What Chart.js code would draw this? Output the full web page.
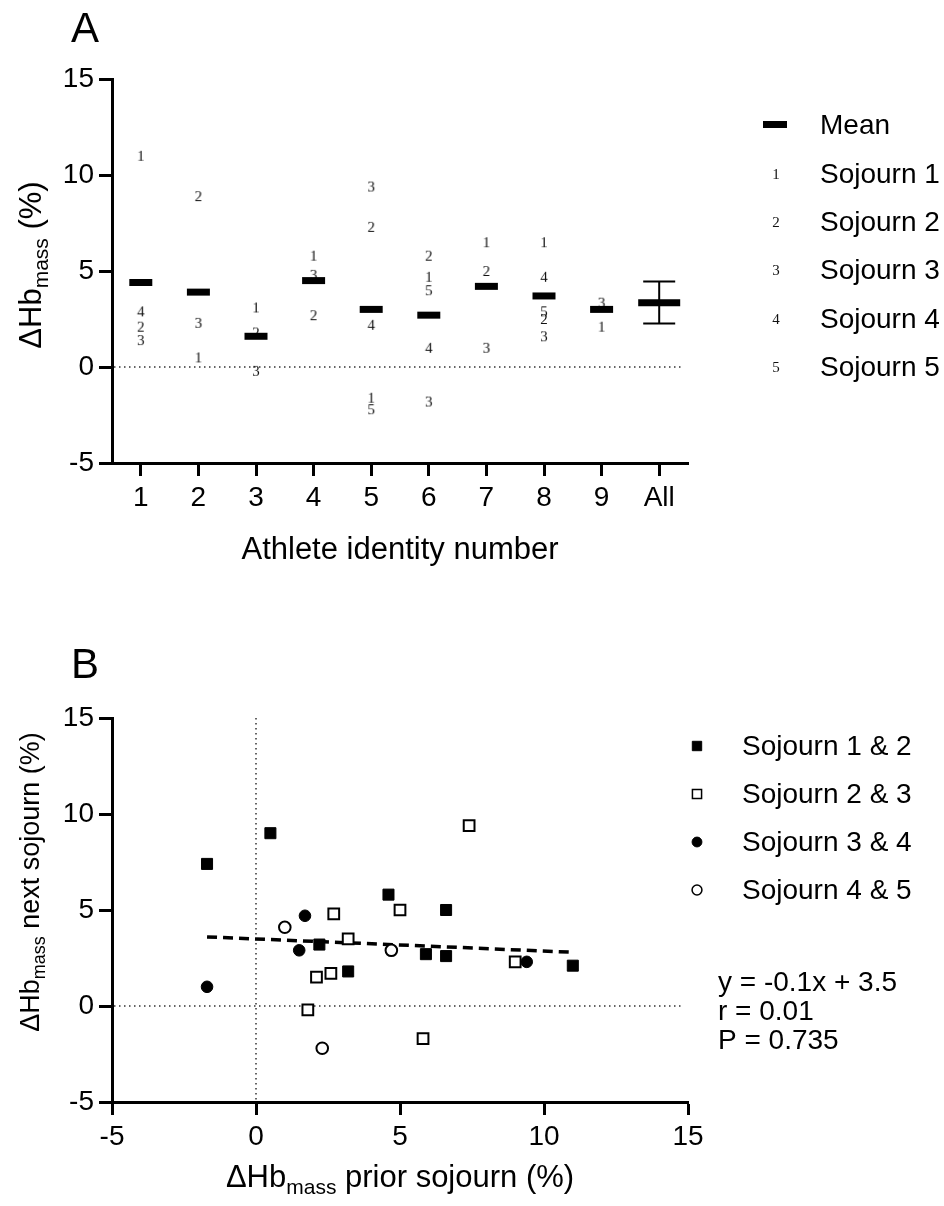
<!DOCTYPE html>
<html>
<head>
<meta charset="utf-8">
<script src="https://cdn.jsdelivr.net/npm/chart.js@4.4.0/dist/chart.umd.min.js"></script>
<style>
  body { margin: 0; background: #fff; }
  #wrap { position: relative; width: 944px; height: 1206px; }
  canvas { position: absolute; left: 0; }
  #chartA { top: 0; }
  #chartB { top: 603px; }
</style>
</head>
<body>
<div id="wrap">
  <canvas id="chartA" width="944" height="603"></canvas>
  <canvas id="chartB" width="944" height="603"></canvas>
</div>
<script>
const FONT = '"Liberation Sans", Arial, sans-serif';
const SERIF = '"Liberation Serif", "Times New Roman", serif';

// ---- Panel A data ----
const athletes = ['1', '2', '3', '4', '5', '6', '7', '8', '9', 'All'];
const meanValues = [4.4, 3.9, 1.6, 4.5, 3.0, 2.7, 4.2, 3.7, 3.0, 3.35];
const allUpper = 4.45;
const allLower = 2.27;
const sojourn1 = [11.0, 0.5, 3.1, 5.8, -1.6, 4.7, 6.5, 6.5, 2.1, null];
const sojourn2 = [2.1, 8.9, 1.8, 2.7, 7.3, 5.8, 5.0, 2.5, null, null];
const sojourn3 = [1.4, 2.3, -0.2, 4.8, 9.4, -1.8, 1.0, 1.6, 3.35, null];
const sojourn4 = [2.9, null, null, null, 2.2, 1.0, null, 4.7, null, null];
const sojourn5 = [null, null, null, null, -2.2, 4.0, null, 2.9, null, null];
const sojournNames = ['Sojourn 1', 'Sojourn 2', 'Sojourn 3', 'Sojourn 4', 'Sojourn 5'];

// ---- Panel B data ----
const pair12x = [-1.7, 0.5, 4.6, 2.2, 3.2, 5.9, 6.6, 6.6, 11.0];
const pair12y = [7.4, 9.0, 5.8, 3.2, 1.8, 2.7, 5.0, 2.6, 2.1];
const pair23x = [2.7, 5.0, 5.8, 7.4, 2.1, 9.0, 1.8, 2.6, 3.2];
const pair23y = [4.8, 5.0, -1.7, 9.4, 1.5, 2.3, -0.2, 1.7, 3.5];
const pair34x = [1.7, 1.5, -1.7, 9.4];
const pair34y = [4.7, 2.9, 1.0, 2.3];
const pair45x = [1.0, 4.7, 2.3];
const pair45y = [4.1, 2.9, -2.2];
const fitX = [-1.7, 11.0];
const fitY = [3.6, 2.8];
const pairNames = ['Sojourn 1 & 2', 'Sojourn 2 & 3', 'Sojourn 3 & 4', 'Sojourn 4 & 5'];
const statLines = ['y = -0.1x + 3.5', 'r = 0.01', 'P = 0.735'];

function toPoints(xs, ys) {
    return xs.map((x, i) => ({ x: x, y: ys[i] }));
}

// small serif digit used as point marker in panel A
function digitMarker(d) {
    const c = document.createElement('canvas');
    c.width = 14;
    c.height = 18;
    const g = c.getContext('2d');
    g.font = '15px ' + SERIF;
    g.fillStyle = '#111';
    g.textAlign = 'center';
    g.textBaseline = 'alphabetic';
    g.fillText(d, 7, 14);
    return c;
}
const digits = ['1', '2', '3', '4', '5'].map(digitMarker);

// text with a "mass" subscript
function drawRich(ctx, parts, x, y) {
    let w = 0;
    parts.forEach(p => {
        ctx.font = p.size + 'px ' + FONT;
        p.w = ctx.measureText(p.t).width;
        w += p.w;
    });
    let cx = x - w / 2;
    ctx.textAlign = 'left';
    ctx.textBaseline = 'alphabetic';
    parts.forEach(p => {
        ctx.font = p.size + 'px ' + FONT;
        ctx.fillText(p.t, cx, y + (p.dy || 0));
        cx += p.w;
    });
}

function hbTitle(rest, size) {
    const sub = Math.round(size * 0.68);
    return [{ t: 'ΔHb', size: size }, { t: 'mass', size: sub, dy: size * 0.24 }, { t: rest, size: size }];
}

function axisStyle() {
    return {
        grid: { drawOnChartArea: false, drawTicks: true, tickLength: 13, tickWidth: 3, tickColor: '#000', color: '#000' },
        border: { display: true, width: 3, color: '#000' },
        ticks: { color: '#000', font: { family: FONT, size: 28 }, padding: 5 }
    };
}

function dottedLine(ctx, x1, y1, x2, y2) {
    ctx.save();
    ctx.strokeStyle = '#333';
    ctx.lineWidth = 1.5;
    ctx.setLineDash([1.5, 3.5]);
    ctx.beginPath();
    ctx.moveTo(x1, y1);
    ctx.lineTo(x2, y2);
    ctx.stroke();
    ctx.restore();
}

const extrasA = {
    id: 'extrasA',
    beforeDatasetsDraw(chart) {
        const y0 = chart.scales.y.getPixelForValue(0);
        dottedLine(chart.ctx, chart.chartArea.left + 2, y0, chart.chartArea.right - 4, y0);
    },
    afterDatasetsDraw(chart) {
        const ctx = chart.ctx;
        const xs = chart.scales.x;
        const ys = chart.scales.y;
        const x = xs.getPixelForValue(athletes.length - 1);
        const top = ys.getPixelForValue(allUpper);
        const bot = ys.getPixelForValue(allLower);
        ctx.save();
        ctx.strokeStyle = '#000';
        ctx.lineWidth = 2;
        ctx.beginPath();
        ctx.moveTo(x, top); ctx.lineTo(x, bot);
        ctx.moveTo(x - 16, top); ctx.lineTo(x + 16, top);
        ctx.moveTo(x - 16, bot); ctx.lineTo(x + 16, bot);
        ctx.stroke();
        ctx.restore();
    },
    afterDraw(chart) {
        const ctx = chart.ctx;
        ctx.save();
        ctx.fillStyle = '#000';
        ctx.font = '42px ' + FONT;
        ctx.textAlign = 'left';
        ctx.textBaseline = 'alphabetic';
        ctx.fillText('A', 71, 42);

        // axis titles
        ctx.font = '31px ' + FONT;
        ctx.textAlign = 'center';
        ctx.fillText('Athlete identity number', 400, 559);
        ctx.save();
        ctx.translate(41, 265);
        ctx.rotate(-Math.PI / 2);
        drawRich(ctx, hbTitle(' (%)', 31), 0, 0);
        ctx.restore();

        // legend
        ctx.fillRect(763, 121, 24, 7);
        ctx.font = '28px ' + FONT;
        ctx.textAlign = 'left';
        ctx.textBaseline = 'middle';
        ctx.fillText('Mean', 820, 126);
        const rows = [174, 222, 270, 319, 367];
        sojournNames.forEach((name, i) => {
            ctx.drawImage(digits[i], 769, rows[i] - 9);
            ctx.fillText(name, 820, rows[i] + 1);
        });
        ctx.restore();
    }
};

const extrasB = {
    id: 'extrasB',
    beforeDatasetsDraw(chart) {
        const a = chart.chartArea;
        const x0 = chart.scales.x.getPixelForValue(0);
        const y0 = chart.scales.y.getPixelForValue(0);
        dottedLine(chart.ctx, a.left + 2, y0, a.right - 4, y0);
        dottedLine(chart.ctx, x0, a.top, x0, a.bottom - 2);
    },
    afterDraw(chart) {
        const ctx = chart.ctx;
        ctx.save();
        ctx.fillStyle = '#000';
        ctx.font = '42px ' + FONT;
        ctx.textAlign = 'left';
        ctx.textBaseline = 'alphabetic';
        ctx.fillText('B', 71, 75);

        drawRich(ctx, hbTitle(' prior sojourn (%)', 31), 400, 584);
        ctx.save();
        ctx.translate(39, 279);
        ctx.rotate(-Math.PI / 2);
        drawRich(ctx, hbTitle(' next sojourn (%)', 27), 0, 0);
        ctx.restore();

        // legend
        const rows = [143, 191, 239, 287];
        const styles = chart.data.datasets.slice(0, 4);
        ctx.font = '28px ' + FONT;
        ctx.textBaseline = 'middle';
        pairNames.forEach((name, i) => {
            const ds = styles[i];
            ctx.save();
            ctx.fillStyle = ds.backgroundColor;
            ctx.strokeStyle = ds.borderColor;
            ctx.lineWidth = Math.min(ds.borderWidth, 1.5);
            Chart.helpers.drawPoint(ctx, { pointStyle: ds.pointStyle, radius: ds.pointRadius * 0.85, borderWidth: ds.borderWidth }, 697, rows[i]);
            ctx.restore();
            ctx.fillText(name, 742, rows[i] + 1);
        });
        statLines.forEach((t, i) => {
            ctx.fillText(t, 718, 380 + i * 29);
        });
        ctx.restore();
    }
};

const sojournSeries = [sojourn1, sojourn2, sojourn3, sojourn4, sojourn5];

new Chart(document.getElementById('chartA'), {
    type: 'line',
    data: {
        labels: athletes,
        datasets: [{
            label: 'Mean',
            data: meanValues,
            showLine: false,
            pointStyle: 'line',
            pointRadius: athletes.map(a => a === 'All' ? 21 : 11.5),
            pointBorderWidth: 7,
            pointBorderColor: '#000',
            pointBackgroundColor: '#000'
        }].concat(sojournSeries.map((s, i) => ({
            label: sojournNames[i],
            data: s,
            showLine: false,
            pointStyle: digits[i],
            pointRadius: 8
        })))
    },
    options: {
        responsive: false,
        animation: false,
        events: [],
        layout: { padding: { left: 0, right: 256, top: 79, bottom: 0 } },
        plugins: { legend: { display: false }, tooltip: { enabled: false } },
        scales: {
            x: Object.assign(axisStyle(), {
                type: 'category',
                offset: true,
                afterFit: s => { s.height = 140; }
            }),
            y: Object.assign(axisStyle(), {
                min: -5,
                max: 15,
                afterFit: s => { s.width = 112; }
            })
        }
    },
    plugins: [extrasA]
});

new Chart(document.getElementById('chartB'), {
    type: 'scatter',
    data: {
        datasets: [{
            label: pairNames[0],
            data: toPoints(pair12x, pair12y),
            pointStyle: 'rect',
            pointRadius: 7.8,
            backgroundColor: '#000',
            borderColor: '#000',
            borderWidth: 1
        }, {
            label: pairNames[1],
            data: toPoints(pair23x, pair23y),
            pointStyle: 'rect',
            pointRadius: 7.6,
            backgroundColor: '#fff',
            borderColor: '#000',
            borderWidth: 2
        }, {
            label: pairNames[2],
            data: toPoints(pair34x, pair34y),
            pointStyle: 'circle',
            pointRadius: 5.8,
            backgroundColor: '#000',
            borderColor: '#000',
            borderWidth: 1
        }, {
            label: pairNames[3],
            data: toPoints(pair45x, pair45y),
            pointStyle: 'circle',
            pointRadius: 5.8,
            backgroundColor: '#fff',
            borderColor: '#000',
            borderWidth: 2
        }, {
            label: 'fit',
            type: 'line',
            data: toPoints(fitX, fitY),
            showLine: true,
            borderColor: '#000',
            borderWidth: 3.5,
            borderDash: [10, 6],
            pointRadius: 0,
            fill: false
        }]
    },
    options: {
        responsive: false,
        animation: false,
        events: [],
        layout: { padding: { left: 0, right: 256, top: 115, bottom: 0 } },
        plugins: { legend: { display: false }, tooltip: { enabled: false } },
        scales: {
            x: Object.assign(axisStyle(), {
                type: 'linear',
                min: -5,
                max: 15,
                ticks: { color: '#000', font: { family: FONT, size: 28 }, padding: 5, stepSize: 5 },
                afterFit: s => { s.height = 104; }
            }),
            y: Object.assign(axisStyle(), {
                min: -5,
                max: 15,
                ticks: { color: '#000', font: { family: FONT, size: 28 }, padding: 5, stepSize: 5 },
                afterFit: s => { s.width = 112; }
            })
        }
    },
    plugins: [extrasB]
});
</script>
</body>
</html>
